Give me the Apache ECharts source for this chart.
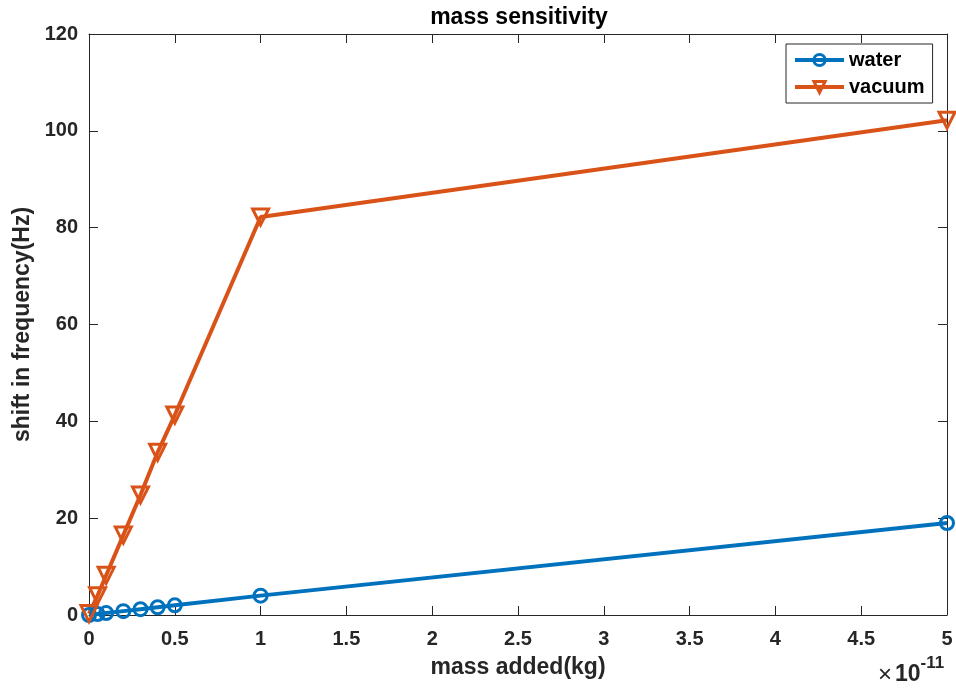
<!DOCTYPE html>
<html>
<head>
<meta charset="utf-8">
<script src="https://cdn.jsdelivr.net/npm/echarts@6/dist/echarts.min.js"></script>
<style>
html,body{margin:0;padding:0;background:#fff;}
#chart{width:956px;height:690px;}
</style>
</head>
<body>
<div id="chart"></div>
<script>
// mass added, in units of 1e-11 kg
var massAdded = [0, 0.05, 0.1, 0.2, 0.3, 0.4, 0.5, 1, 5];
// shift in frequency (Hz)
var waterShift = [0, 0.2, 0.4, 0.8, 1.2, 1.6, 2.0, 4.0, 19.0];
var vacuumShift = [0.3, 4.0, 8.2, 16.5, 24.8, 33.6, 41.3, 82.2, 102.2];
var seriesNames = ['water', 'vacuum'];
var seriesColors = ['#0072BD', '#D95319'];

var FONT = '"Liberation Sans", Arial, Helvetica, sans-serif';
var INK = '#262626';

function pairs(xs, ys)
{
	var out = [];
	for (var i = 0; i < xs.length; i++)
	{
		out.push([xs[i], ys[i]]);
	}
	return out;
}

var myChart = echarts.init(document.getElementById('chart'), null, {renderer: 'canvas'});

//主轴样式，上/右两根是matlab的box边框
function xAxisDef(pos, showLabel)
{
	return {
		type: 'value', position: pos, min: 0, max: 5, interval: 0.5,
		axisLine: {show: true, onZero: false, lineStyle: {color: INK, width: 1}},
		axisTick: {show: true, inside: true, length: 9, lineStyle: {color: INK}},
		splitLine: {show: false},
		axisLabel: {show: showLabel, margin: 14, color: INK, fontFamily: FONT, fontWeight: 'bold', fontSize: 20},
		name: showLabel ? 'mass added(kg)' : '',
		nameLocation: 'middle', nameGap: 41,
		nameTextStyle: {color: INK, fontFamily: FONT, fontWeight: 'bold', fontSize: 23}
	};
}
function yAxisDef(pos, showLabel)
{
	return {
		type: 'value', position: pos, min: 0, max: 120, interval: 20,
		axisLine: {show: true, onZero: false, lineStyle: {color: INK, width: 1}},
		axisTick: {show: true, inside: true, length: 9, lineStyle: {color: INK}},
		splitLine: {show: false},
		axisLabel: {show: showLabel, margin: 11, color: INK, fontFamily: FONT, fontWeight: 'bold', fontSize: 20},
		name: showLabel ? 'shift in frequency(Hz)' : '',
		nameLocation: 'middle', nameGap: 49,
		nameTextStyle: {color: INK, fontFamily: FONT, fontWeight: 'bold', fontSize: 23}
	};
}

function lineSeries(idx, ys, symbol, size, rotate)
{
	return {
		name: seriesNames[idx], type: 'line', data: pairs(massAdded, ys),
		symbol: symbol, symbolSize: size, symbolRotate: rotate,
		lineStyle: {color: seriesColors[idx], width: 4},
		itemStyle: {color: 'rgba(255,255,255,0)', borderColor: seriesColors[idx], borderWidth: 3}
	};
}

var option = {
	animation: false,
	backgroundColor: '#fff',
	title: {
		text: 'mass sensitivity', left: 519, top: 6, textAlign: 'center', padding: 0,
		textStyle: {color: '#000', fontFamily: FONT, fontWeight: 'bold', fontSize: 23}
	},
	grid: {left: 89, right: 9, top: 34, bottom: 75, containLabel: false},
	legend: {
		orient: 'vertical', left: 786, top: 44,
		padding: [6, 8, 6, 7], itemGap: 7, itemWidth: 49, itemHeight: 14,
		borderColor: INK, borderWidth: 1, backgroundColor: '#fff',
		data: seriesNames,
		lineStyle: {width: 4},
		itemStyle: {borderWidth: 3},
		textStyle: {color: '#000', fontFamily: FONT, fontWeight: 'bold', fontSize: 20, lineHeight: 20}
	},
	xAxis: [xAxisDef('bottom', true), xAxisDef('top', false)],
	yAxis: [yAxisDef('left', true), yAxisDef('right', false)],
	series: [
		lineSeries(0, waterShift, 'circle', 13, 0),
		lineSeries(1, vacuumShift, 'triangle', 16, 180)
	],
	graphic: [
		{
			type: 'text', left: 878, top: 655,
			style: {
				text: '{x|×}{b|10}{s|-11}',
				rich: {
					x: {fontFamily: FONT, fontSize: 24, fill: INK, padding: [8, 3, 0, 0]},
					b: {fontFamily: FONT, fontWeight: 'bold', fontSize: 23, fill: INK, padding: [8, 0, 0, 0]},
					s: {fontFamily: FONT, fontWeight: 'bold', fontSize: 17, fill: INK, verticalAlign: 'top', padding: [0, 0, 6, 0]}
				}
			}
		}
	]
};
myChart.setOption(option);
</script>
</body>
</html>
